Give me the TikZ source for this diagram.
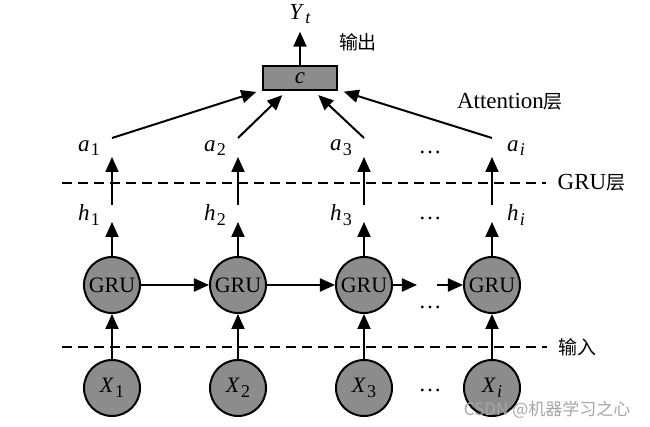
\documentclass[tikz,border=0pt]{standalone}
\usepackage{fontspec}
\setmainfont{Liberation Serif}
\newfontfamily\cjk{Noto Sans CJK SC}
\usetikzlibrary{arrows.meta}

\newcommand{\sym}[2]{\textit{#1}\kern0.6pt\raisebox{-0.45ex}{\fontsize{9}{10}\selectfont #2}}

\begin{document}
\begin{tikzpicture}[x=0.5pt, y=-0.5pt, line width=1pt,
    arr/.style={-{Triangle[width=6.5pt,length=7.5pt]}},
    cell/.style={circle, draw, fill=black!45, minimum size=28pt, inner sep=0pt, font=\fontsize{11}{13}\selectfont},
    lbl/.style={font=\fontsize{11.5}{13}\selectfont},
    zh/.style={font=\fontsize{9.5}{11}\cjk},
    layer/.style={dash pattern=on 5pt off 3pt, line width=0.8pt}]
    \useasboundingbox (0,0) rectangle (650,427);
    % attention output
    \node[draw, fill=black!45, minimum width=37pt, minimum height=12pt, inner sep=0pt, lbl] (c) at (300,78) {\textit{c}};
    \node[lbl] (yt) at (300,14) {\sym{Y}{\textit{t}}};
    \draw[arr] (c) -- (yt);
    \node[zh] (out) at (358,42) {输出};
    \node[lbl] (att) at (510,102) {Attention{\cjk\fontsize{9.5}{11}\selectfont 层}};
    % columns
    \foreach \i/\x/\s/\side in {1/112/1/-23, 2/238/2/-23, 3/364/3/-23, 4/492/\textit{i}/24} {
        \node[cell] (x\i) at (\x,388) {\sym{X}{\s}};
        \node[cell] (g\i) at (\x,285) {GRU};
        \draw[arr] (x\i) -- (g\i);
        \coordinate (ht\i) at (\x,222);
        \draw[arr] (g\i) -- (ht\i);
        \node[lbl] (h\i) at (\x+\side,215) {\sym{h}{\s}};
        \coordinate (hb\i) at (\x,205);
        \coordinate (at\i) at (\x,157);
        \draw[arr] (hb\i) -- (at\i);
        \node[lbl] (a\i) at (\x+\side,148) {\sym{a}{\s}};
        \coordinate (s\i) at (\x,138);
        \draw[arr, shorten >=3pt] (s\i) -- (c);
    }
    % recurrent links
    \draw[arr] (g1) -- (g2);
    \draw[arr] (g2) -- (g3);
    \coordinate (d1) at (417,285);
    \coordinate (d2) at (437,285);
    \draw[arr] (g3) -- (d1);
    \draw[arr] (d2) -- (g4);
    \foreach \y in {152,218,307,390} {\node[lbl] at (430,\y) {\dots};}
    % layers
    \node[lbl, anchor=west] (lgru) at (550,183) {GRU{\cjk\fontsize{9.5}{11}\selectfont 层}};
    \node[zh, anchor=west] (lin) at (551,347) {输入};
    \coordinate (l1) at (62,183);
    \coordinate (l2) at (62,347);
    \draw[layer, shorten >=2pt] (l1) -- (lgru.west);
    \draw[layer, shorten >=2pt] (l2) -- (lin.west);
    \node[anchor=east, text=black!35, font=\fontsize{8.5}{10}\cjk] (wm) at (638,410) {CSDN @机器学习之心};
\end{tikzpicture}
\end{document}
